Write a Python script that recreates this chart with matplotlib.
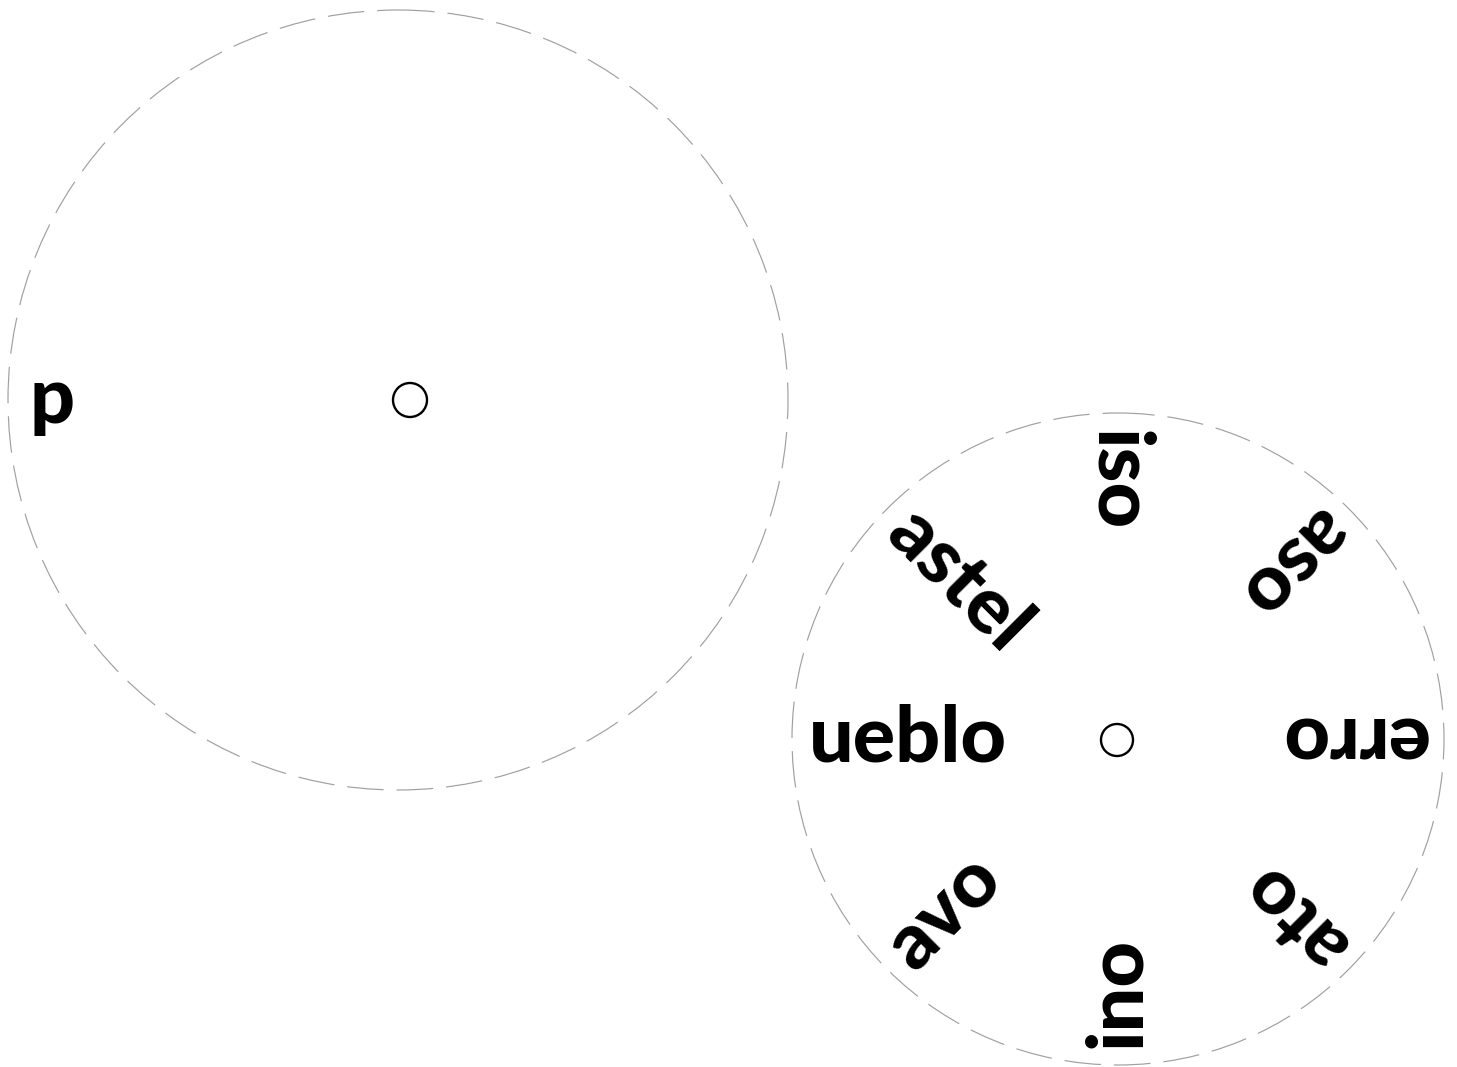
import numpy as np
import matplotlib.pyplot as plt
from matplotlib.patches import Circle

# two wheels: one letter on the left, endings on the right
left_words = ["p"]
left_angles = [180]

right_words = ["ueblo", "astel", "iso", "aso", "erro", "ato", "ino", "avo"]
right_angles = [180, 135, 90, 45, 0, -45, -90, -135]

W, H = 1457, 1067
fig = plt.figure(figsize=(W / 100, H / 100), dpi=100)
ax = fig.add_axes([0, 0, 1, 1])
ax.set_xlim(0, W)
ax.set_ylim(H, 0)
ax.axis("off")


def draw_wheel(cx, cy, r, px, py, pr, words, angles, text_r):
    ring = Circle((cx, cy), r, fill=False, edgecolor="#a0a0a0", lw=0.85,
                  linestyle=(0, (31, 11)))
    ax.add_patch(ring)
    pivot = Circle((px, py), pr, facecolor="white", edgecolor="black", lw=1.7)
    ax.add_patch(pivot)
    for w, a in zip(words, angles):
        t = np.radians(a)
        x = cx + text_r * np.cos(t)
        y = cy - text_r * np.sin(t)
        ax.text(x, y, w, rotation=a + 180, rotation_mode="anchor",
                ha="left", va="center", fontsize=57, fontweight="black",
                family="Lato", color="black")


draw_wheel(398, 400, 390, 410, 400, 17, left_words, left_angles, 368)
draw_wheel(1118, 739, 326, 1117, 740, 16, right_words, right_angles, 309)

fig.savefig("out.png", dpi=100)
